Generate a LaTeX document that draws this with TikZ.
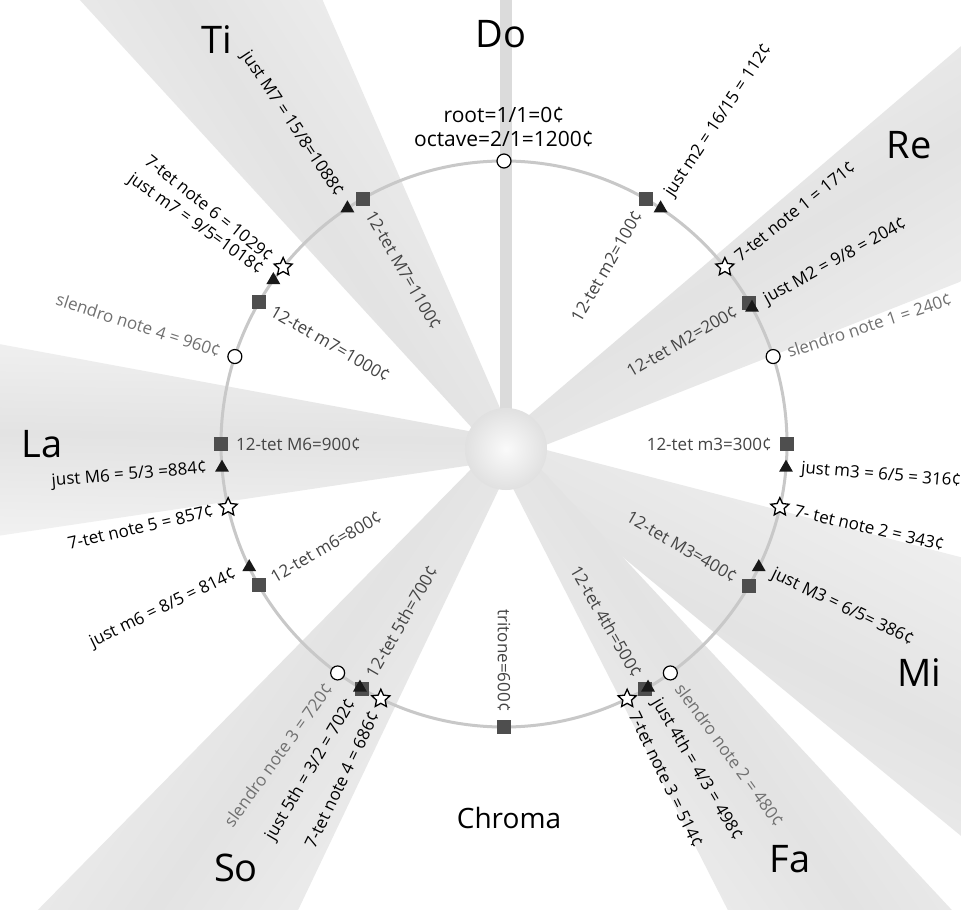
\documentclass[tikz,border=0pt]{standalone}
\usepackage{fontspec}
\setmainfont{Open Sans}
\usetikzlibrary{shapes.geometric}
\definecolor{ring}{RGB}{200,200,200}
\definecolor{twelve}{RGB}{68,68,68}
\definecolor{slendro}{RGB}{112,112,112}
\definecolor{block}{RGB}{78,78,78}

\begin{document}
\begin{tikzpicture}[x=1pt, y=1pt,
    solfa/.style={inner sep=0pt, font=\fontsize{38}{40}\selectfont},
    lbl/.style={inner sep=0pt, font=\fontsize{17}{19}\selectfont},
    twelvelbl/.style={lbl, text=twelve},
    justlbl/.style={lbl, text=black},
    tetlbl/.style={lbl, text=black},
    slendrolbl/.style={lbl, text=slendro},
    sq/.style={rectangle, fill=block, minimum size=14pt, inner sep=0pt},
    tri/.style={regular polygon, regular polygon sides=3, fill=black!90, minimum size=16pt, inner sep=0pt},
    starmark/.style={star, star points=5, star point ratio=2.1, draw=black, fill=white, line width=1.3pt, minimum size=19pt, inner sep=0pt},
    openmark/.style={circle, draw=black, fill=white, line width=1.2pt, minimum size=14pt, inner sep=0pt},
    ray/.style={top color=black!2, bottom color=black!2, middle color=black!11},
  ]
  \useasboundingbox (-504,-466) rectangle (457,444);
  \fill[white] (-504,-466) rectangle (457,444);
  \clip (-504,-466) rectangle (457,444);

  % light beams
  \coordinate (hub) at (2,-5);
  \foreach \p/\w in {31/9.5, -27/12.5, -55/8, -125/9.5, -181/9.5, -237/9.5}
    \shade[ray, shading angle=\p, shift={(hub)}, rotate=\p]
      (30,16) -- (900,{16+870*tan(\w)}) -- (900,{-16-870*tan(\w)}) -- (30,-16) -- cycle;
  \fill[black!14] (-4,444) rectangle (8,20);
  \shade[inner color=black!2, outer color=black!12] (hub) circle (41);

  % the chroma circle
  \draw[ring, line width=3pt] (0,0) circle (283);

  % markers
  \foreach \c in {100,200,...,1100}
    \node[sq] (q\c) at ({90-0.3*\c}:283) {};
  \foreach \c in {112,204,316,386,498,702,814,884,1018,1088}
    \node[tri] (j\c) at ({90-0.3*\c}:283) {};
  \foreach \c in {171,343,514,686,857,1029}
    \node[starmark] (s\c) at ({90-0.3*\c}:283) {};
  \foreach \c in {0,240,480,720,960}
    \node[openmark] (o\c) at ({90-0.3*\c}:283) {};

  % labels, right half
  \foreach \c/\t in {100/{12-tet m2=100¢}, 200/{12-tet M2=200¢}, 300/{12-tet m3=300¢},
      400/{12-tet M3=400¢}, 500/{12-tet 4th=500¢}, 600/{tritone=600¢}}
    \node[twelvelbl, anchor=east, rotate=90-0.3*\c] (tl\c) at ({90-0.3*\c}:268) {\t};
  \foreach \c/\s/\t in {112/justlbl/{just m2 = 16/15 = 112¢}, 171/tetlbl/{7-tet note 1 = 171¢},
      204/justlbl/{just M2 = 9/8 = 204¢}, 240/slendrolbl/{slendro note 1 = 240¢},
      316/justlbl/{just m3 = 6/5 = 316¢}, 343/tetlbl/{7- tet note 2 = 343¢},
      386/justlbl/{just M3 = 6/5= 386¢}, 480/slendrolbl/{slendro note 2 = 480¢},
      498/justlbl/{just 4th = 4/3 = 498¢}, 514/tetlbl/{7-tet note 3 = 514¢}}
    \node[\s, anchor=west, rotate=90-0.3*\c] (ol\c) at ({90-0.3*\c}:298) {\t};

  % labels, left half
  \foreach \c/\t in {700/{12-tet 5th=700¢}, 800/{12-tet m6=800¢}, 900/{12-tet M6=900¢},
      1000/{12-tet m7=1000¢}, 1100/{12-tet M7=1100¢}}
    \node[twelvelbl, anchor=west, rotate=270-0.3*\c] (tl\c) at ({90-0.3*\c}:268) {\t};
  \foreach \c/\s/\t in {686/tetlbl/{7-tet note 4 = 686¢}, 702/justlbl/{just 5th = 3/2 = 702¢},
      720/slendrolbl/{slendro note 3 = 720¢}, 814/justlbl/{just m6 = 8/5 = 814¢},
      857/tetlbl/{7-tet note 5 = 857¢}, 884/justlbl/{just M6 = 5/3 =884¢},
      960/slendrolbl/{slendro note 4 = 960¢}, 1018/justlbl/{just m7 = 9/5=1018¢},
      1029/tetlbl/{7-tet note 6 = 1029¢}, 1088/justlbl/{just M7 = 15/8=1088¢}}
    \node[\s, anchor=east, rotate=270-0.3*\c] (ol\c) at ({90-0.3*\c}:298) {\t};

  \node[lbl, align=center, font=\fontsize{21}{24}\selectfont] (root) at (0,317) {root=1/1=0¢\\octave=2/1=1200¢};
  \node[inner sep=0pt, font=\fontsize{28}{30}\selectfont] (chroma) at (5,-374) {Chroma};

  % solfege names
  \node[solfa] (do) at (-3,410) {Do};
  \node[solfa] (re) at (405,299) {Re};
  \node[solfa] (mi) at (415,-229) {Mi};
  \node[solfa] (fa) at (286,-415) {Fa};
  \node[solfa] (so) at (-268,-424) {So};
  \node[solfa] (la) at (-462,0) {La};
  \node[solfa] (ti) at (-287,404) {Ti};
\end{tikzpicture}
\end{document}
